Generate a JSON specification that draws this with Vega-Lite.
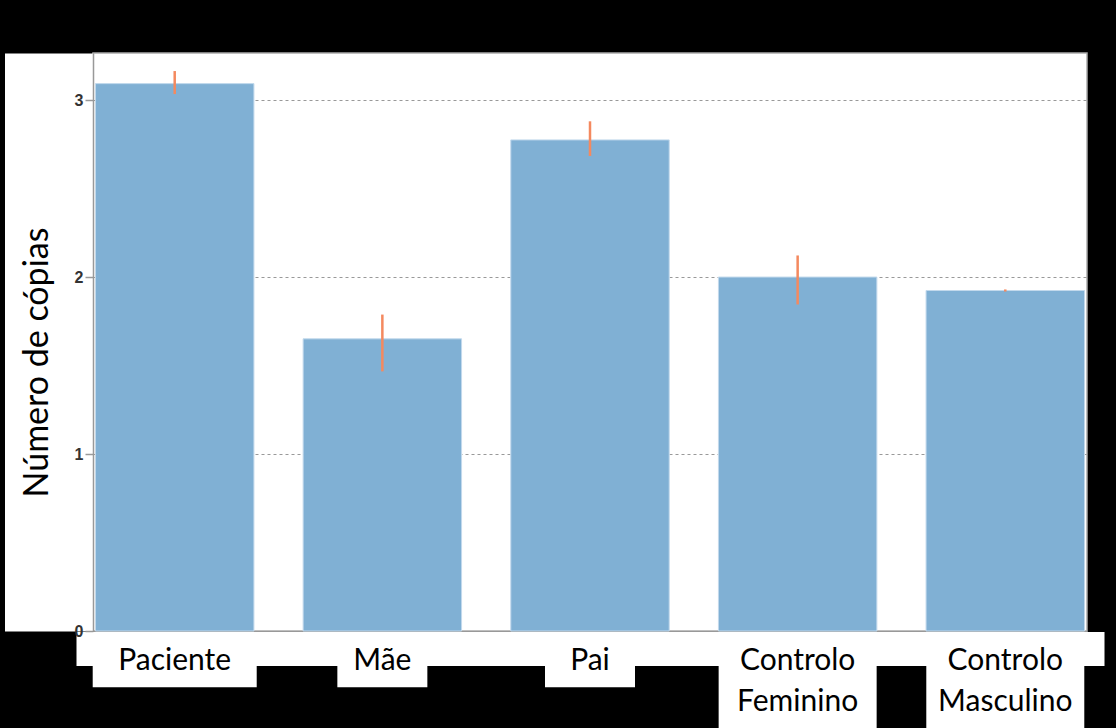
{
  "$schema": "https://vega.github.io/schema/vega-lite/v6.json",
  "width": 994,
  "height": 578,
  "autosize": {"type": "none"},
  "padding": {"left": 93, "top": 53, "right": 29, "bottom": 97},
  "background": "black",
  "config": {
    "view": {"fill": "white", "stroke": "#aaaaaa", "strokeWidth": 1.5},
    "axis": {"domainCap": "butt"}
  },
  "data": {
    "values": [
      {"cat": "Paciente", "value": 3.093, "lo": 3.034, "hi": 3.164},
      {"cat": "Mãe", "value": 1.651, "lo": 1.467, "hi": 1.788},
      {"cat": "Pai", "value": 2.775, "lo": 2.684, "hi": 2.88},
      {"cat": "Controlo Feminino", "value": 2.0, "lo": 1.845, "hi": 2.122},
      {"cat": "Controlo Masculino", "value": 1.924, "lo": 1.918, "hi": 1.93}
    ]
  },
  "layer": [
    {
      "mark": {"type": "bar", "color": "#80b0d4", "stroke": "#c2d9ec", "strokeWidth": 1},
      "encoding": {
        "x": {
          "field": "cat", "type": "nominal", "sort": null,
          "scale": {"paddingInner": 0.237, "paddingOuter": 0.012},
          "axis": {
            "labels": false, "ticks": false, "title": null, "grid": false,
            "domainColor": "white", "domainWidth": 34, "offset": 17.5, "domainCap": "square"
          }
        },
        "y": {
          "field": "value", "type": "quantitative",
          "scale": {"domain": [0, 3.266], "nice": false, "zero": true},
          "axis": {
            "orient": "left", "offset": 44.5, "domainColor": "white", "domainWidth": 88,
            "labels": false, "ticks": false, "grid": false, "title": null
          }
        }
      }
    },
    {
      "mark": {"type": "rule", "color": "#f4895f", "strokeWidth": 2.5},
      "encoding": {
        "x": {"field": "cat", "type": "nominal", "sort": null},
        "y": {
          "field": "lo", "type": "quantitative",
          "axis": {
            "orient": "left", "offset": 0,
            "values": [0, 1, 2, 3],
            "domainColor": "#999999", "domainWidth": 1.5,
            "ticks": true, "tickSize": 8, "tickColor": "#999999", "tickWidth": 1.5,
            "labelPadding": 2, "labelFont": "Liberation Sans", "labelFontSize": 16,
            "labelFontWeight": "bold", "labelColor": "#333333",
            "grid": true, "gridColor": "#999999", "gridWidth": 1,
            "gridDash": {"condition": {"test": "datum.value === 0", "value": []}, "value": [3, 3]},
            "title": "Número de cópias", "titleFont": "Lato", "titleFontSize": 34,
            "titleFontWeight": "normal", "titleColor": "black",
            "titleAngle": 270, "titleAlign": "center", "titleBaseline": "alphabetic",
            "titleX": -46, "titleY": 309
          }
        },
        "y2": {"field": "hi"}
      }
    },
    {
      "transform": [{"filter": "datum.cat === 'Paciente'"}],
      "mark": {"type": "bar", "color": "white", "clip": false, "width": 164},
      "encoding": {
        "x": {"field": "cat", "type": "nominal", "sort": null},
        "y": {"datum": -0.01, "type": "quantitative", "axis": null},
        "y2": {"datum": -0.318}
      }
    },
    {
      "transform": [{"filter": "datum.cat === 'Mãe' || datum.cat === 'Pai'"}],
      "mark": {"type": "bar", "color": "white", "clip": false, "width": 90},
      "encoding": {
        "x": {"field": "cat", "type": "nominal", "sort": null},
        "y": {"datum": -0.01, "type": "quantitative", "axis": null},
        "y2": {"datum": -0.318}
      }
    },
    {
      "transform": [{"filter": "datum.cat === 'Controlo Feminino' || datum.cat === 'Controlo Masculino'"}],
      "mark": {"type": "bar", "color": "white", "clip": false, "width": 158},
      "encoding": {
        "x": {"field": "cat", "type": "nominal", "sort": null},
        "y": {"datum": -0.01, "type": "quantitative", "axis": null},
        "y2": {"datum": -0.56}
      }
    },
    {
      "mark": {
        "type": "text", "clip": false, "font": "Lato", "fontSize": 30,
        "lineBreak": " ", "lineHeight": 41, "align": "center", "baseline": "alphabetic",
        "color": "black"
      },
      "encoding": {
        "x": {"field": "cat", "type": "nominal", "sort": null},
        "y": {"datum": -0.222, "type": "quantitative", "axis": null},
        "text": {"field": "cat"}
      }
    }
  ],
  "resolve": {"axis": {"y": "independent"}}
}
